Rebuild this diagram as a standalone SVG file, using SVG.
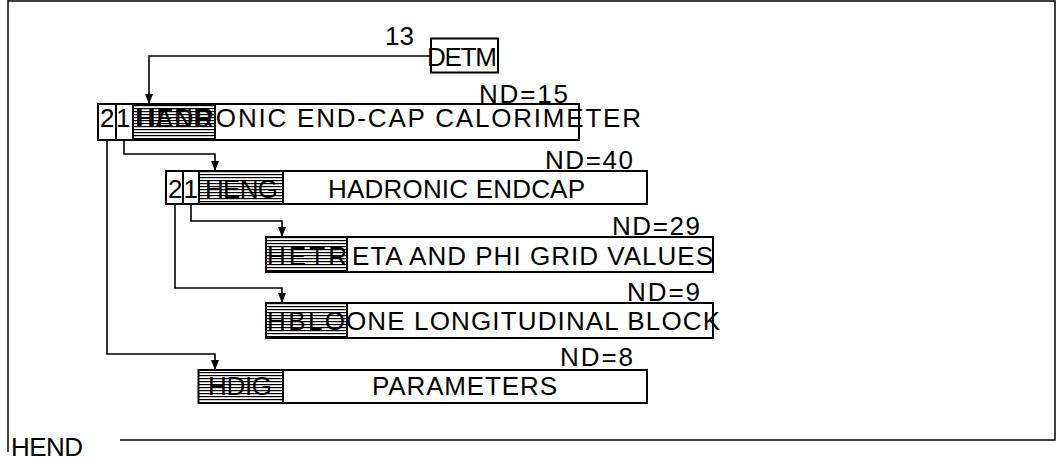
<svg xmlns="http://www.w3.org/2000/svg" width="1057" height="459" viewBox="0 0 1057 459">
<style>
.box{fill:#fff;stroke:#000;stroke-width:2}
.hb{fill:url(#hatch);stroke:#000;stroke-width:2}
.t{font-family:"Liberation Sans",Arial,sans-serif;font-size:26px;fill:#000}
.conn{fill:none;stroke:#000;stroke-width:1.6}
.frame{fill:none;stroke:#000;stroke-width:1.5}
</style>
<defs>
<pattern id="hatch" width="8" height="3" patternUnits="userSpaceOnUse"><rect width="8" height="1.2" fill="#000"/></pattern>
</defs>
<g id="frame">
<path class="frame" d="M8,0 V452 M8,1 H1055 V440 H120"/>
</g>
<g id="connectors">
<path class="conn" d="M431,56 H149 V104"/>
<path class="conn" d="M124,140 V154 H215 V171"/>
<path class="conn" d="M107,140 V354 H215 V370"/>
<path class="conn" d="M191,204 V221 H282 V237"/>
<path class="conn" d="M175,204 V288 H282 V303"/>
<path d="M145,94 L153,94 L149,104 Z"/>
<path d="M211,161 L219,161 L215,171 Z"/>
<path d="M211,360 L219,360 L215,370 Z"/>
<path d="M278,227 L286,227 L282,237 Z"/>
<path d="M278,293 L286,293 L282,303 Z"/>
</g>
<g id="DETM">
<rect class="box" x="431" y="38.5" width="67" height="34"/>
<text class="t" x="385" y="45">13</text>
<text class="t" x="427" y="66" textLength="70" lengthAdjust="spacing">DETM</text>
</g>
<g id="HEND">
<rect class="box" x="98" y="104" width="18" height="36"/>
<rect class="box" x="116" y="104" width="17" height="36"/>
<rect class="box" x="215" y="104" width="364" height="36"/>
<text class="t" x="100" y="127">2</text>
<text class="t" x="116" y="127">1</text>
<text class="t" x="137" y="127" textLength="75" lengthAdjust="spacing">HEND</text>
<rect class="hb" x="133" y="104" width="82" height="36"/>
<text class="t" x="135" y="127" textLength="506" lengthAdjust="spacing">HADRONIC END-CAP CALORIMETER</text>
<text class="t" x="479" y="103" textLength="89" lengthAdjust="spacing">ND=15</text>
</g>
<g id="HENG">
<rect class="box" x="166" y="171" width="17" height="33"/>
<rect class="box" x="183" y="171" width="16" height="33"/>
<rect class="box" x="283" y="171" width="364" height="33"/>
<text class="t" x="168" y="198">2</text>
<text class="t" x="183.5" y="198">1</text>
<text class="t" x="205" y="198" textLength="73" lengthAdjust="spacing">HENG</text>
<rect class="hb" x="199" y="171" width="84" height="33"/>
<text class="t" x="328" y="198" textLength="257" lengthAdjust="spacing">HADRONIC ENDCAP</text>
<text class="t" x="545" y="169" textLength="88" lengthAdjust="spacing">ND=40</text>
</g>
<g id="HETR">
<rect class="box" x="347" y="237" width="366" height="35"/>
<text class="t" x="267" y="265" textLength="80" lengthAdjust="spacing">HETR</text>
<rect class="hb" x="266" y="237" width="81" height="35"/>
<text class="t" x="352" y="265" textLength="361" lengthAdjust="spacing">ETA AND PHI GRID VALUES</text>
<text class="t" x="612" y="235" textLength="88" lengthAdjust="spacing">ND=29</text>
</g>
<g id="HBLO">
<rect class="box" x="347" y="303" width="366" height="35"/>
<text class="t" x="267" y="330" textLength="78" lengthAdjust="spacing">HBLO</text>
<rect class="hb" x="266" y="303" width="81" height="35"/>
<text class="t" x="346" y="330" textLength="374" lengthAdjust="spacing">ONE LONGITUDINAL BLOCK</text>
<text class="t" x="627" y="301" textLength="73" lengthAdjust="spacing">ND=9</text>
</g>
<g id="HDIG">
<rect class="box" x="283" y="370" width="364" height="33"/>
<text class="t" x="208" y="395" textLength="64" lengthAdjust="spacing">HDIG</text>
<rect class="hb" x="198.5" y="370" width="84.5" height="33"/>
<text class="t" x="372" y="395" textLength="185" lengthAdjust="spacing">PARAMETERS</text>
<text class="t" x="560" y="366" textLength="73" lengthAdjust="spacing">ND=8</text>
</g>
<g id="title">
<text class="t" x="11" y="456" textLength="72" lengthAdjust="spacing">HEND</text>
</g>
</svg>
